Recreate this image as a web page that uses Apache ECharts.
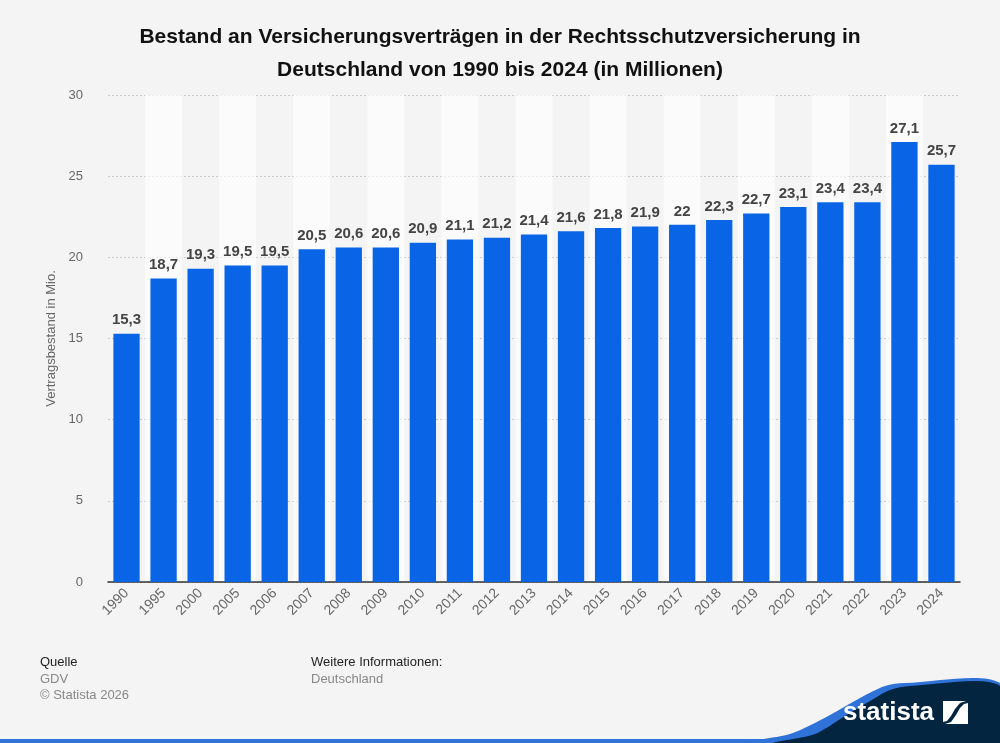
<!DOCTYPE html>
<html>
<head>
<meta charset="utf-8">
<script src="https://cdn.jsdelivr.net/npm/echarts@6/dist/echarts.min.js"></script>
<style>
html,body{margin:0;padding:0;background:#f4f4f4;}
#main{width:1000px;height:743px;}
</style>
</head>
<body>
<div id="main"></div>
<script>
var years = ['1990','1995','2000','2005','2006','2007','2008','2009','2010','2011','2012','2013','2014','2015','2016','2017','2018','2019','2020','2021','2022','2023','2024'];
var bestand = [15.3,18.7,19.3,19.5,19.5,20.5,20.6,20.6,20.9,21.1,21.2,21.4,21.6,21.8,21.9,22,22.3,22.7,23.1,23.4,23.4,27.1,25.7];
var yTicks = [0,5,10,15,20,25,30];

var chart = echarts.init(document.getElementById('main'));
var font = 'Liberation Sans, Arial, sans-serif';

// logo wave shapes (decoration only)
var waveBlue = [[740,743],[790,734],[830,715],[860,698],[885,686],[905,683],[1000,683],[1000,743]];
var waveDark = [[775,743],[815,734],[845,716],[870,701],[890,690],[910,686],[1000,686],[1000,743]];

var option = {
    backgroundColor: '#f4f4f4',
    animation: false,
    title: {
        text: 'Bestand an Versicherungsverträgen in der Rechtsschutzversicherung in\nDeutschland von 1990 bis 2024 (in Millionen)',
        left: 'center',
        top: 16,
        textStyle: {fontFamily: font, fontSize: 21, fontWeight: 'bold', color: '#111', lineHeight: 33}
    },
    grid: {left: 108, right: 40, top: 95, bottom: 161},
    xAxis: {
        type: 'category',
        data: years,
        axisLine: {lineStyle: {color: '#333', width: 1.5}},
        axisTick: {show: false},
        axisLabel: {rotate: 45, color: '#666', fontFamily: font, fontSize: 14, margin: 9, interval: 0},
        splitArea: {show: true, interval: 0, areaStyle: {color: ['rgba(0,0,0,0)', 'rgba(255,255,255,0.6)']}}
    },
    yAxis: {
        type: 'value',
        min: yTicks[0],
        max: yTicks[yTicks.length - 1],
        interval: 5,
        name: 'Vertragsbestand in Mio.',
        nameLocation: 'middle',
        nameGap: 50,
        nameTextStyle: {color: '#666', fontFamily: font, fontSize: 13},
        axisLine: {show: false},
        axisTick: {show: false},
        axisLabel: {color: '#666', fontFamily: font, fontSize: 13, margin: 25},
        splitLine: {lineStyle: {color: '#ccc', type: [2, 2]}}
    },
    series: [{
        type: 'bar',
        data: bestand,
        barWidth: '71%',
        itemStyle: {color: '#0a64e6'},
        label: {
            show: true,
            position: 'top',
            distance: 6,
            color: '#444',
            fontFamily: font,
            fontSize: 15,
            fontWeight: 'bold',
            formatter: function (p) { return String(p.value).replace('.', ','); }
        }
    }],
    graphic: [
        {type: 'text', x: 40, y: 656, style: {text: 'Quelle', fill: '#222', font: '13px ' + font}},
        {type: 'text', x: 40, y: 673, style: {text: 'GDV', fill: '#888', font: '13px ' + font}},
        {type: 'text', x: 40, y: 689, style: {text: '© Statista 2026', fill: '#888', font: '13px ' + font}},
        {type: 'text', x: 311, y: 656, style: {text: 'Weitere Informationen:', fill: '#222', font: '13px ' + font}},
        {type: 'text', x: 311, y: 673, style: {text: 'Deutschland', fill: '#888', font: '13px ' + font}},
        {type: 'rect', shape: {x: 0, y: 739, width: 1000, height: 4}, style: {fill: '#2f72d8'}},
        {type: 'polygon', shape: {points: waveBlue, smooth: 0.3}, style: {fill: '#2f72d8'}},
        {type: 'polygon', shape: {points: waveDark, smooth: 0.3}, style: {fill: '#03253f'}},
        {type: 'text', x: 843, y: 700, style: {text: 'statista', fill: '#fff', font: 'bold 26px ' + font}},
        {type: 'polygon', shape: {points: [[943,701],[966,701],[960,703],[955,709],[951,716],[947,721],[943,722]]}, style: {fill: '#fff'}},
        {type: 'polygon', shape: {points: [[968,703],[968,724],[945,724],[951,722],[956,715],[960,708],[964,704]]}, style: {fill: '#fff'}}
    ]
};
chart.setOption(option);
</script>
</body>
</html>
